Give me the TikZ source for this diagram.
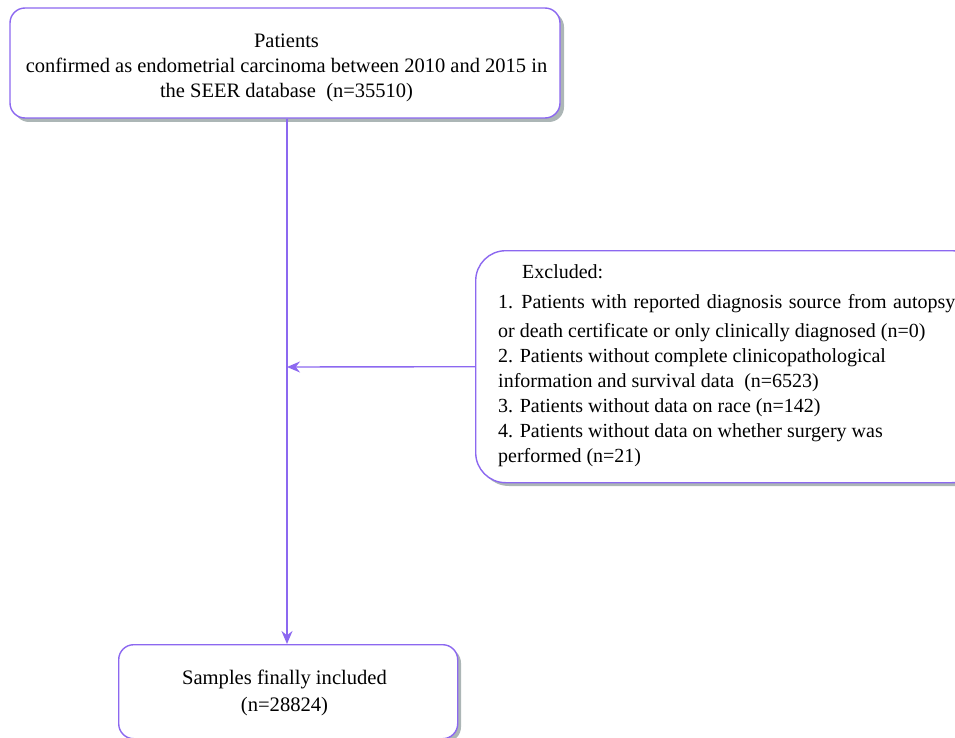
\documentclass[tikz,border=0pt]{standalone}
\usepackage{fontspec}
\setmainfont{Liberation Serif}
\usetikzlibrary{arrows.meta}
\definecolor{boxline}{RGB}{140,104,240}
\definecolor{shade}{RGB}{172,182,182}
\begin{document}
\begin{tikzpicture}[x=1pt,y=-1pt,
  box/.style={draw=boxline,line width=1.4pt,fill=white,inner sep=0pt},
  shadow/.style={fill=shade},
  txt/.style={font=\fontsize{20}{25}\selectfont,inner sep=0pt},
  conn/.style={draw=boxline,line width=1.4pt,-{Stealth[length=13pt,width=11pt]}}]
\useasboundingbox (0,0) rectangle (955,738);
% shadows
\fill[shadow,rounded corners=15pt] (14,12) rectangle (564,122);
\fill[shadow,rounded corners=30pt] (479,254) rectangle (985,486);
\fill[shadow,rounded corners=15pt] (122,648) rectangle (461,742);
% boxes
\node[box,rounded corners=15pt,minimum width=550pt,minimum height=110pt] (top) at (285,63) {};
\node[box,rounded corners=30pt,minimum width=506pt,minimum height=232pt,anchor=north west] (exc) at (475,250) {};
\node[box,rounded corners=15pt,minimum width=339pt,minimum height=94pt,anchor=north west] (bot) at (118,644) {};
% texts
\node[txt,align=center,font=\fontsize{20.5}{25}\selectfont] (toptext) at (286.5,68) {Patients\\confirmed as endometrial carcinoma between 2010 and 2015 in\\the SEER database~~(n=35510)};
\node[txt,align=left,anchor=north west] (exctext) at (498,264) {\hspace*{24pt}Excluded:\\[5pt]
{\spaceskip=6.6pt\relax 1. Patients with reported diagnosis source from autopsy}\\[4pt]
or death certificate or only clinically diagnosed (n=0)\\
2. Patients without complete clinicopathological\\
information and survival data~~(n=6523)\\
3. Patients without data on race (n=142)\\
4. Patients without data on whether surgery was\\
performed (n=21)};
\node[txt,align=center,font=\fontsize{20.6}{27}\selectfont] (bottext) at (284.5,693) {Samples finally included\\(n=28824)};
% connectors
\coordinate (join) at (287,367);
\draw[conn] (top.south -| 287,0) -- (bot.north -| 287,0);
\draw[conn] (exc.west) -- (join);
\end{tikzpicture}
\end{document}
